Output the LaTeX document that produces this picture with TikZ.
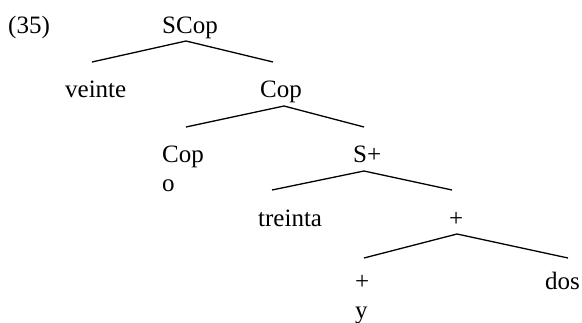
\documentclass[tikz,border=0pt]{standalone}
\usepackage{fontspec}
\setmainfont{Liberation Serif}
\begin{document}
\begin{tikzpicture}[x=1pt,y=-1pt,
  lab/.style={anchor=base west,inner sep=0pt,font=\fontsize{25}{28}\selectfont},
  branch/.style={line width=1.3pt}]
\useasboundingbox (0,0) rectangle (582,322);
% labels
\node[lab] (ex) at (8,33) {(35)};
\node[lab] (scop) at (162,33) {SCop};
\node[lab] (veinte) at (65,97) {veinte};
\node[lab] (cop1) at (260,97) {Cop};
\node[lab] (cop2) at (162,162) {Cop};
\node[lab] (o) at (162,191) {o};
\node[lab] (splus) at (353,162) {S+};
\node[lab] (treinta) at (258,226) {treinta};
\node[lab] (plus1) at (449,226) {+};
\node[lab] (plus2) at (355,289) {+};
\node[lab] (dos) at (545,289) {dos};
\node[lab] (y) at (355,318) {y};
% branch points
\coordinate (a0) at (186,41);
\coordinate (l0) at (92,62);
\coordinate (r0) at (273,62);
\coordinate (a1) at (284,106);
\coordinate (l1) at (186,127);
\coordinate (r1) at (364,127);
\coordinate (a2) at (364,171);
\coordinate (l2) at (272,190);
\coordinate (r2) at (452,190);
\coordinate (a3) at (457,234);
\coordinate (l3) at (364,258);
\coordinate (r3) at (568,258);
\draw[branch] (l0) -- (a0) -- (r0);
\draw[branch] (l1) -- (a1) -- (r1);
\draw[branch] (l2) -- (a2) -- (r2);
\draw[branch] (l3) -- (a3) -- (r3);
\end{tikzpicture}
\end{document}
